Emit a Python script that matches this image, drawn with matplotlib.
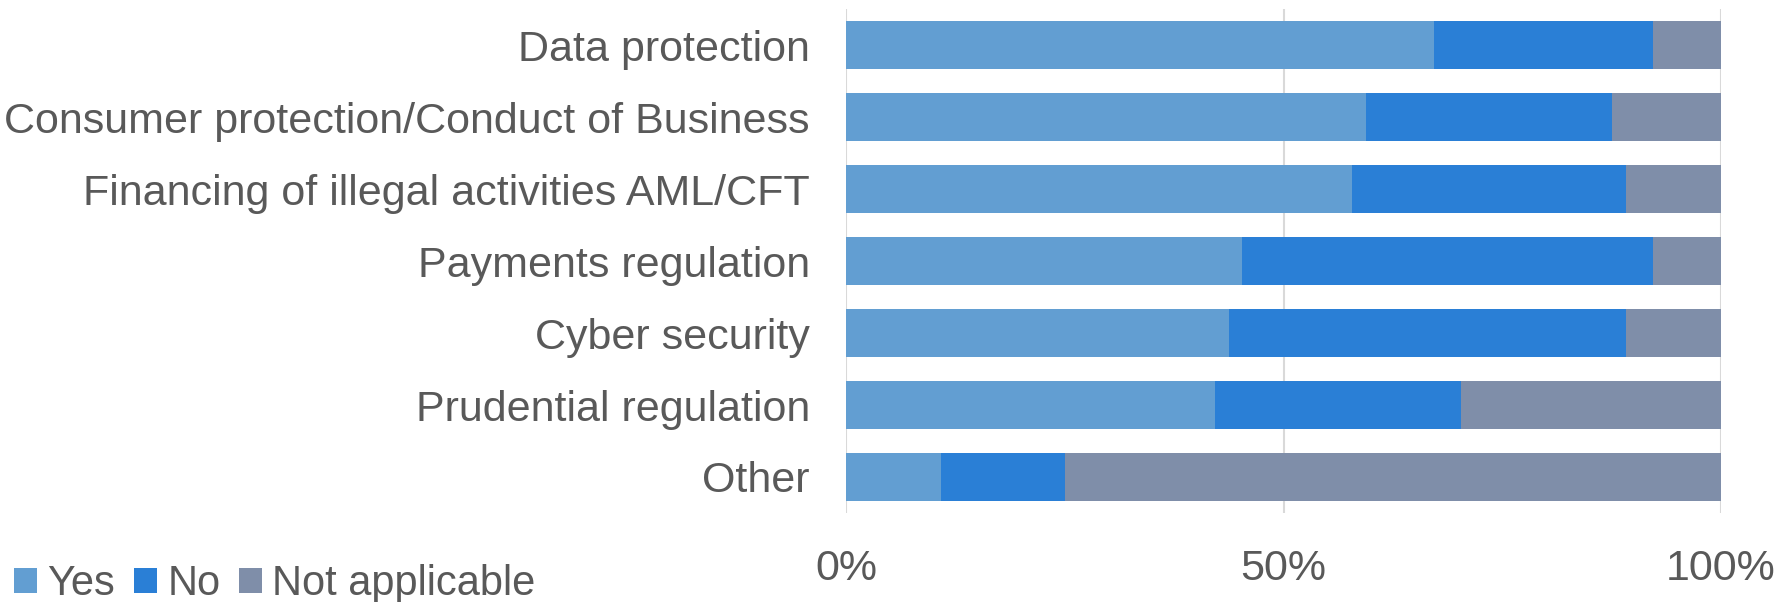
import matplotlib
matplotlib.use("Agg")
import matplotlib.pyplot as plt
import numpy as np

categories = ["Data protection", "Consumer protection/Conduct of Business",
              "Financing of illegal activities AML/CFT", "Payments regulation",
              "Cyber security", "Prudential regulation", "Other"]
yes = [67.2, 59.4, 57.8, 45.3, 43.8, 42.2, 10.9]
no = [25.0, 28.1, 31.3, 46.9, 45.3, 28.1, 14.1]
na = [7.8, 12.5, 10.9, 7.8, 10.9, 29.7, 75.0]
series_names = ["Yes", "No", "Not applicable"]
xticks = [0, 50, 100]
xtick_labels = ["0%", "50%", "100%"]

colors = ["#629ED2", "#2A7FD6", "#7F8EA9"]
text_color = "#595959"

plt.rcParams['font.family'] = ['Liberation Sans', 'DejaVu Sans']

fig = plt.figure(figsize=(17.89, 6.02), dpi=100)
ax = fig.add_axes([846/1789, 1-513/602, (1721-846)/1789, (513-9)/602])

n = len(categories)
ypos = np.arange(n)[::-1]
h = 0.68
left = np.zeros(n)
for vals, c, name in zip([yes, no, na], colors, series_names):
    ax.barh(ypos, vals, left=left, height=h, color=c, label=name, zorder=2)
    left = left + np.array(vals)

ax.set_xlim(0, 100)
ax.set_ylim(-0.5, n - 0.5)
ax.set_xticks(xticks)
ax.set_xticklabels(xtick_labels)
ax.set_yticks(ypos)
ax.set_yticklabels(categories)
for s in ax.spines.values():
    s.set_visible(False)
ax.grid(axis='x', color='#D9D9D9', linewidth=1.5, zorder=0)
ax.tick_params(axis='both', length=0, labelsize=31, labelcolor=text_color)
ax.tick_params(axis='y', pad=26)
ax.tick_params(axis='x', pad=26)

leg = fig.legend(loc='center left', bbox_to_anchor=(14/1789, 1-584/602), ncol=3,
                 frameon=False, fontsize=30, handlelength=0.55, handleheight=0.55,
                 handletextpad=0.25, columnspacing=0.45, borderaxespad=0, borderpad=0.0)
for t in leg.get_texts():
    t.set_color(text_color)

fig.savefig("out.png", dpi=100)
